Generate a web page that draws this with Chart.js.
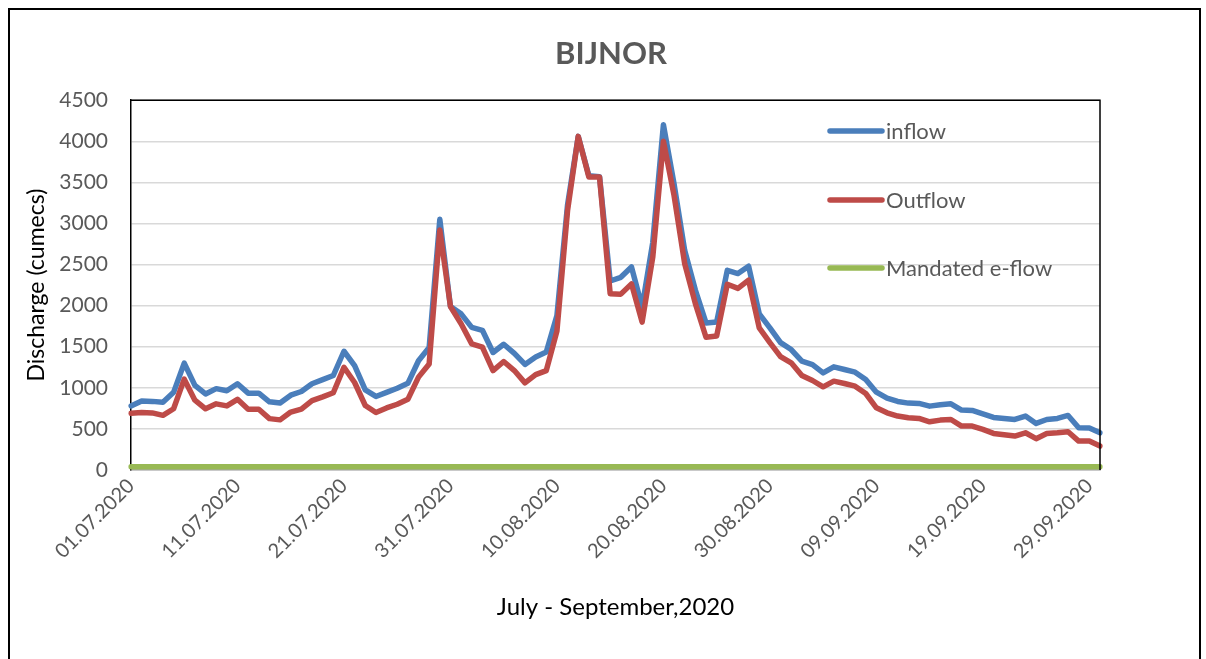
<!DOCTYPE html>
<html>
<head>
<meta charset="utf-8">
<script src="https://cdn.jsdelivr.net/npm/chart.js@4.4.0/dist/chart.umd.min.js"></script>
<style>
  html, body { margin: 0; padding: 0; background: #fff; }
  canvas { display: block; }
</style>
</head>
<body>
<canvas id="bijnorChart" width="1206" height="659"></canvas>
<script>
// daily discharge, 01.07.2020 - 30.09.2020 (cumecs)
const inflow = [
  780, 840, 835, 825, 945, 1300, 1030, 925, 990, 965,
  1050, 935, 935, 830, 815, 910, 955, 1050, 1100, 1150,
  1445, 1270, 975, 895, 945, 995, 1055, 1330, 1490, 3050,
  1990, 1900, 1735, 1700, 1430, 1530, 1420, 1285, 1375, 1435,
  1880, 3230, 4060, 3580, 3570, 2300, 2345, 2470, 1985, 2770,
  4200, 3480, 2670, 2190, 1790, 1800, 2430, 2390, 2480, 1900,
  1730, 1550, 1466, 1324, 1283, 1182, 1255, 1223, 1190, 1101,
  947, 874, 834, 814, 810, 777, 794, 806, 729, 725,
  684, 640, 628, 615, 656, 567, 615, 628, 664, 514,
  510, 453
];
const outflow = [
  690, 700, 695, 665, 745, 1105, 850, 745, 805, 780,
  860, 740, 740, 625, 610, 705, 740, 845, 890, 940,
  1250, 1065, 785, 700, 755, 800, 860, 1130, 1290, 2920,
  1990, 1780, 1535, 1495, 1210, 1320, 1210, 1060, 1160, 1210,
  1690, 3160, 4060, 3565, 3565, 2145, 2140, 2265, 1800, 2590,
  4000, 3340, 2510, 2025, 1615, 1630, 2260, 2210, 2310, 1730,
  1550, 1380, 1304, 1150, 1089, 1012, 1081, 1053, 1020, 931,
  757, 696, 656, 636, 628, 587, 607, 615, 534, 534,
  494, 445, 429, 413, 453, 381, 445, 453, 466, 352,
  352, 291
];
const eflowValue = 40;
const yTicks = { min: 0, max: 4500, step: 500 };

// category labels: one per day from 01.07.2020
const dates = [];
for (let d = new Date(2020, 6, 1); dates.length < inflow.length; d.setDate(d.getDate() + 1)) {
  dates.push(String(d.getDate()).padStart(2, '0') + '.' + String(d.getMonth() + 1).padStart(2, '0') + '.2020');
}
const eflow = [
  { x: dates[0], y: eflowValue },
  { x: dates[dates.length - 1], y: eflowValue }
];

const FONT = 'Lato, "Open Sans", sans-serif';
const GREY_TEXT = '#595959';

// outer frame + plot border, like the Excel export
const framePlugin = {
  id: 'frame',
  beforeDraw(chart) {
    const ctx = chart.ctx;
    ctx.save();
    ctx.fillStyle = '#fff';
    ctx.fillRect(0, 0, chart.width, chart.height);
    ctx.strokeStyle = '#000';
    ctx.lineWidth = 2;
    ctx.strokeRect(9, 9, 1191, 700);
    ctx.restore();
  },
  afterDraw(chart) {
    const a = chart.chartArea;
    const ctx = chart.ctx;
    ctx.save();
    ctx.strokeStyle = '#000';
    ctx.lineWidth = 1.5;
    ctx.beginPath();
    ctx.moveTo(a.left, a.top);
    ctx.lineTo(a.right, a.top);
    ctx.lineTo(a.right, a.bottom);
    ctx.stroke();
    ctx.restore();
  }
};

// legend sits inside the plot, one entry per row
const insideLegend = {
  id: 'insideLegend',
  afterDraw(chart) {
    const ctx = chart.ctx;
    const rowY = [131, 200, 268];
    ctx.save();
    ctx.font = '22px ' + FONT;
    ctx.textBaseline = 'middle';
    ctx.textAlign = 'left';
    chart.data.datasets.forEach((ds, i) => {
      const y = rowY[i];
      ctx.strokeStyle = ds.borderColor;
      ctx.lineWidth = 5.5;
      ctx.lineCap = 'round';
      ctx.beginPath();
      ctx.moveTo(830, y);
      ctx.lineTo(882, y);
      ctx.stroke();
      ctx.fillStyle = GREY_TEXT;
      ctx.fillText(ds.label, 886, y + 1);
    });
    ctx.restore();
  }
};

const ctx = document.getElementById('bijnorChart').getContext('2d');
const bijnorChart = new Chart(ctx, {
  type: 'line',
  data: {
    labels: dates,
    datasets: [
      { label: 'inflow', data: inflow, borderColor: '#4a7ebb', order: 3 },
      { label: 'Outflow', data: outflow, borderColor: '#be4b48', order: 2 },
      { label: 'Mandated e-flow', data: eflow, borderColor: '#98b954', order: 1 }
    ]
  },
  options: {
    responsive: false,
    animation: false,
    layout: { padding: { left: 16, right: 0, top: 0, bottom: 0 } },
    elements: {
      point: { radius: 0 },
      line: { borderWidth: 5.5, tension: 0, borderJoinStyle: 'round', borderCapStyle: 'round', fill: false }
    },
    plugins: {
      legend: { display: false },
      tooltip: { enabled: false },
      title: {
        display: true,
        text: 'BIJNOR',
        color: GREY_TEXT,
        font: { family: FONT, size: 31, weight: 'bold' },
        padding: { top: 35, bottom: 28 }
      }
    },
    scales: {
      x: {
        type: 'category',
        grid: { display: false, drawTicks: false },
        border: { color: '#a6a6a6', width: 1.5 },
        afterFit(scale) { scale.height = 189; },
        ticks: {
          autoSkip: false,
          minRotation: 45,
          maxRotation: 45,
          padding: 4,
          color: GREY_TEXT,
          font: { family: FONT, size: 20 },
          callback: function (val, index) {
            return index % 10 === 0 ? this.getLabelForValue(val) : '';
          }
        },
        title: {
          display: true,
          text: 'July - September,2020',
          color: '#000',
          font: { family: FONT, size: 24 },
          padding: { top: 0, bottom: 37 }
        }
      },
      y: {
        min: yTicks.min,
        max: yTicks.max,
        grid: { color: '#d9d9d9', lineWidth: 1.5, drawTicks: false },
        border: { color: '#000', width: 1.5 },
        afterFit(scale) { scale.width = 115; },
        ticks: {
          stepSize: yTicks.step,
          padding: 23,
          color: GREY_TEXT,
          font: { family: FONT, size: 21 },
          callback: (v) => String(v)
        },
        title: {
          display: true,
          text: 'Discharge (cumecs)',
          color: '#000',
          font: { family: FONT, size: 23 },
          padding: { top: 7, bottom: 0 }
        }
      },
      // empty right-hand axis, only reserves the space right of the plot
      yRight: {
        position: 'right',
        display: true,
        grid: { display: false, drawTicks: false },
        border: { display: false },
        ticks: { display: false },
        afterFit(scale) { scale.width = 106; }
      }
    }
  },
  plugins: [framePlugin, insideLegend]
});
</script>
</body>
</html>
